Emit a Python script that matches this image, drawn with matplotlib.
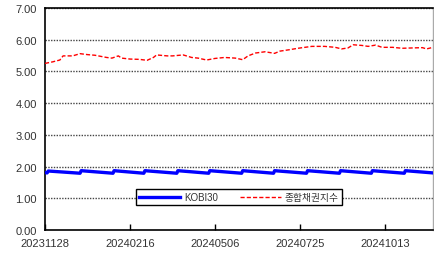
import matplotlib
matplotlib.use("Agg")
import matplotlib.pyplot as plt
import matplotlib.dates as mdates
import pandas as pd

plt.rcParams['font.family'] = ['Liberation Sans', 'Noto Sans CJK KR', 'DejaVu Sans']

# KOBI30: 매월 초 롤오버 후 한 달 동안 하락
kobi_dates = ["2023-11-28", "2023-11-30", "2023-12-01", "2023-12-31", "2024-01-01", "2024-01-31",
              "2024-02-01", "2024-02-29", "2024-03-01", "2024-03-31", "2024-04-01", "2024-04-30",
              "2024-05-01", "2024-05-31", "2024-06-01", "2024-06-30", "2024-07-01", "2024-07-31",
              "2024-08-01", "2024-08-31", "2024-09-01", "2024-09-30", "2024-10-01", "2024-10-31",
              "2024-11-01", "2024-11-27"]
kobi_vals = [1.81, 1.80, 1.86, 1.79, 1.87, 1.79,
             1.87, 1.79, 1.87, 1.79, 1.87, 1.79,
             1.87, 1.79, 1.87, 1.79, 1.87, 1.79,
             1.87, 1.79, 1.87, 1.79, 1.87, 1.79,
             1.87, 1.80]

# 종합채권지수
idx_dates = ["2023-11-28", "2023-11-29", "2023-12-05", "2023-12-12", "2023-12-15", "2023-12-24",
             "2023-12-31", "2024-01-07", "2024-01-14", "2024-01-25", "2024-01-30", "2024-02-05",
             "2024-02-08", "2024-02-16", "2024-02-25", "2024-03-03", "2024-03-09", "2024-03-12",
             "2024-03-22", "2024-03-27", "2024-04-06", "2024-04-14", "2024-04-20", "2024-04-28",
             "2024-05-06", "2024-05-15", "2024-05-25", "2024-06-01", "2024-06-06", "2024-06-13",
             "2024-06-22", "2024-07-01", "2024-07-06", "2024-07-14", "2024-07-23", "2024-08-05",
             "2024-08-17", "2024-08-27", "2024-09-02", "2024-09-08", "2024-09-13", "2024-09-21",
             "2024-09-27", "2024-10-04", "2024-10-10", "2024-10-20", "2024-10-29", "2024-11-07",
             "2024-11-17", "2024-11-21", "2024-11-27"]
idx_vals = [5.25, 5.26, 5.30, 5.36, 5.49, 5.49,
            5.56, 5.53, 5.51, 5.44, 5.42, 5.49,
            5.42, 5.39, 5.38, 5.35, 5.44, 5.52,
            5.49, 5.49, 5.52, 5.44, 5.42, 5.36,
            5.41, 5.44, 5.42, 5.37, 5.49, 5.58,
            5.62, 5.57, 5.64, 5.68, 5.73, 5.79,
            5.79, 5.76, 5.71, 5.74, 5.84, 5.82,
            5.79, 5.83, 5.76, 5.76, 5.73, 5.74,
            5.75, 5.71, 5.76]

x_ticks = ["2023-11-28", "2024-02-16", "2024-05-06", "2024-07-25", "2024-10-13"]
y_ticks = [0, 1, 2, 3, 4, 5, 6, 7]

fig = plt.figure(figsize=(4.34, 2.55), dpi=100)
ax = fig.add_axes([45 / 434, 1 - 231 / 255, 388 / 434, 222 / 255])

for y in y_ticks[1:]:
    ax.axhline(y, color='#444444', lw=1.0, ls=(0, (1, 1)), zorder=1)

ax.plot(pd.to_datetime(kobi_dates), kobi_vals, color='#0000ff', lw=2.4, label='KOBI30', zorder=3)
ax.plot(pd.to_datetime(idx_dates), idx_vals, color='#ff0000', lw=1.0, ls=(0, (3, 1.5)),
        label='종합채권지수', zorder=3)

ax.set_xlim(pd.Timestamp("2023-11-28"), pd.Timestamp("2024-11-27"))
ax.set_ylim(0, 7)
ax.set_yticks(y_ticks)
ax.set_yticklabels([f"{v:.2f}" for v in y_ticks])
ax.set_xticks(pd.to_datetime(x_ticks))
ax.xaxis.set_major_formatter(mdates.DateFormatter('%Y%m%d'))

ax.tick_params(axis='x', direction='in', length=4, width=1, color='black',
               labelsize=8, labelcolor='#333333', pad=5.5)
ax.tick_params(axis='y', length=0, labelsize=8, labelcolor='#333333', pad=6)

for s in ['left', 'bottom', 'top']:
    ax.spines[s].set_color('black')
    ax.spines[s].set_linewidth(1.2)
ax.spines['right'].set_color('#aaaaaa')
ax.spines['right'].set_linewidth(1.0)

leg = ax.legend(loc='center', bbox_to_anchor=(0.5, 0.149), ncol=2, fontsize=7,
                frameon=True, fancybox=False, edgecolor='black', framealpha=1,
                handlelength=4.2, columnspacing=2.3, borderpad=0.3, handletextpad=0.4)
leg.get_frame().set_linewidth(1.0)
for t in leg.get_texts():
    t.set_color('#333333')

fig.savefig("out.png", dpi=100)
